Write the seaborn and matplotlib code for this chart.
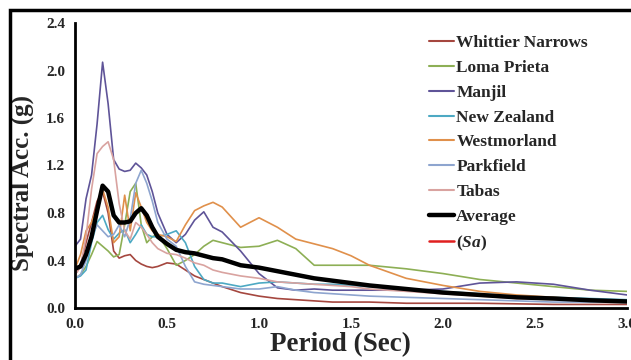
import matplotlib
matplotlib.use("Agg")
import matplotlib.pyplot as plt
from matplotlib.lines import Line2D
from matplotlib.patches import Rectangle
import pandas as pd
import seaborn as sns

# Response spectra of the selected ground motions (period in s, Sa in g)
periods = [0.0, 0.03, 0.06, 0.09, 0.12, 0.15, 0.18, 0.21, 0.24, 0.27, 0.30, 0.33, 0.36,
           0.39, 0.42, 0.45, 0.5, 0.55, 0.6, 0.65, 0.7, 0.75, 0.8, 0.9, 1.0, 1.1, 1.2,
           1.3, 1.4, 1.5, 1.6, 1.8, 2.0, 2.2, 2.4, 2.6, 2.8, 3.0]

whittier = [0.28, 0.35, 0.55, 0.72, 0.90, 0.98, 0.80, 0.48, 0.42, 0.44, 0.45, 0.40, 0.37,
            0.35, 0.34, 0.35, 0.38, 0.37, 0.32, 0.27, 0.24, 0.21, 0.18, 0.13, 0.10, 0.08, 0.07,
            0.06, 0.05, 0.05, 0.05, 0.04, 0.04, 0.04, 0.035, 0.03, 0.03, 0.03]
loma_prieta = [0.25, 0.28, 0.35, 0.45, 0.56, 0.52, 0.48, 0.43, 0.45, 0.70, 0.98, 1.05, 0.70,
               0.55, 0.60, 0.62, 0.50, 0.36, 0.40, 0.45, 0.52, 0.57, 0.55, 0.51, 0.52, 0.57, 0.50,
               0.36, 0.36, 0.36, 0.36, 0.33, 0.29, 0.24, 0.21, 0.18, 0.15, 0.14]
manjil = [0.52, 0.58, 0.92, 1.12, 1.55, 2.07, 1.72, 1.25, 1.17, 1.15, 1.16, 1.22, 1.18,
          1.12, 0.98, 0.80, 0.62, 0.55, 0.62, 0.74, 0.81, 0.68, 0.64, 0.48, 0.29, 0.17, 0.15,
          0.16, 0.15, 0.15, 0.15, 0.15, 0.16, 0.21, 0.22, 0.20, 0.15, 0.11]
new_zealand = [0.25, 0.27, 0.32, 0.55, 0.72, 0.78, 0.66, 0.58, 0.63, 0.66, 0.55, 0.62, 0.70,
               0.62, 0.60, 0.60, 0.62, 0.65, 0.55, 0.35, 0.24, 0.21, 0.21, 0.18, 0.21, 0.22, 0.21,
               0.20, 0.20, 0.19, 0.18, 0.16, 0.14, 0.12, 0.10, 0.09, 0.08, 0.07]
westmorland = [0.33, 0.45, 0.65, 0.72, 0.85, 1.00, 0.85, 0.55, 0.60, 0.95, 0.65, 0.97, 0.85,
               0.72, 0.65, 0.62, 0.60, 0.56, 0.70, 0.82, 0.86, 0.89, 0.85, 0.68, 0.76, 0.68, 0.58,
               0.54, 0.50, 0.44, 0.36, 0.25, 0.19, 0.14, 0.11, 0.09, 0.07, 0.06]
parkfield = [0.25, 0.28, 0.40, 0.60, 0.70, 0.65, 0.60, 0.62, 0.70, 0.60, 0.75, 1.05, 1.16,
             1.05, 0.90, 0.72, 0.58, 0.52, 0.35, 0.22, 0.20, 0.19, 0.18, 0.16, 0.16, 0.18, 0.15,
             0.13, 0.12, 0.11, 0.10, 0.09, 0.08, 0.07, 0.06, 0.05, 0.05, 0.05]
tabas = [0.28, 0.35, 0.60, 1.00, 1.30, 1.36, 1.40, 1.25, 0.88, 0.65, 0.58, 0.72, 0.68,
         0.62, 0.55, 0.50, 0.46, 0.45, 0.42, 0.38, 0.36, 0.32, 0.30, 0.27, 0.25, 0.22, 0.21,
         0.20, 0.19, 0.18, 0.16, 0.14, 0.12, 0.10, 0.08, 0.07, 0.06, 0.06]
average = [0.33, 0.35, 0.45, 0.60, 0.82, 1.03, 0.98, 0.78, 0.72, 0.72, 0.73, 0.80, 0.84,
           0.78, 0.68, 0.60, 0.54, 0.49, 0.47, 0.46, 0.44, 0.42, 0.41, 0.36, 0.34, 0.31, 0.28,
           0.25, 0.23, 0.21, 0.19, 0.16, 0.13, 0.11, 0.09, 0.08, 0.065, 0.055]
sa_design = average

series_names = ["Whittier Narrows", "Loma Prieta", "Manjil", "New Zealand",
                "Westmorland", "Parkfield", "Tabas"]
series_values = [whittier, loma_prieta, manjil, new_zealand, westmorland, parkfield, tabas]
series_colors = ["#A5473F", "#8DAF55", "#5F5498", "#4DA9C3", "#E0904B", "#8EA5CF", "#D9A3A0"]

x_ticks = [0.0, 0.5, 1.0, 1.5, 2.0, 2.5, 3.0]
y_ticks = [0.0, 0.4, 0.8, 1.2, 1.6, 2.0, 2.4]

sns.set_style("white")
plt.rcParams["font.family"] = ["Liberation Serif", "DejaVu Serif"]
plt.rcParams["font.weight"] = "bold"
plt.rcParams["mathtext.fontset"] = "custom"
plt.rcParams["mathtext.it"] = "Liberation Serif:italic:bold"
plt.rcParams["mathtext.rm"] = "Liberation Serif:bold"

fig = plt.figure(figsize=(6.31, 3.6), dpi=100)
ax = fig.add_axes([75 / 631, 1 - 308 / 360, (627 - 75) / 631, (308 - 23) / 360])

for name, vals, col in zip(series_names, series_values, series_colors):
    df = pd.DataFrame({"T": periods, "Sa": vals})
    sns.lineplot(data=df, x="T", y="Sa", ax=ax, color=col, lw=1.2, zorder=2)

sns.lineplot(data=pd.DataFrame({"T": periods, "Sa": sa_design}), x="T", y="Sa",
             ax=ax, color="#E02020", lw=1.5, zorder=3)
sns.lineplot(data=pd.DataFrame({"T": periods, "Sa": average}), x="T", y="Sa",
             ax=ax, color="black", lw=3.2, zorder=4)

ax.set_xlim(0, 3.0)
ax.set_ylim(0, 2.4)
ax.set_xticks(x_ticks)
ax.set_yticks(y_ticks)
ax.set_xticklabels([f"{v:.1f}" for v in x_ticks], fontsize=11, fontweight="bold")
ax.set_yticklabels([f"{v:.1f}" for v in y_ticks], fontsize=11, fontweight="bold")
ax.tick_params(direction="out", length=4, width=1.8, color="black", pad=3)
for side in ("top", "right"):
    ax.spines[side].set_visible(False)
for side in ("left", "bottom"):
    ax.spines[side].set_color("black")
    ax.spines[side].set_linewidth(2.0)

ax.set_xlabel("Period (Sec)", fontsize=19.5, fontweight="bold", va="center")
ax.set_ylabel("Spectral Acc. (g)", fontsize=18, fontweight="bold", va="center")
ax.xaxis.set_label_coords(0.48, -0.13)
ax.yaxis.set_label_coords(-0.096, 0.44)

handles = [Line2D([], [], color=c, lw=1.5) for c in series_colors]
handles += [Line2D([], [], color="black", lw=3.2), Line2D([], [], color="#E02020", lw=1.8)]
labels = series_names + ["Average", r"($\mathit{Sa}$)"]
leg = fig.legend(handles, labels, loc="upper left", bbox_to_anchor=(429 / 631, 1 - 35 / 360),
                 frameon=False, fontsize=12.5, handlelength=1.45, handletextpad=0.12,
                 labelspacing=0.5, borderpad=0, borderaxespad=0)
for t in leg.get_texts():
    t.set_fontweight("bold")

# outer frame around the figure panel
fig.patches.append(Rectangle((10 / 631, -0.2), 1.2, 1 - 10 / 360 + 0.2, fill=False,
                             lw=2.5, edgecolor="black", transform=fig.transFigure,
                             clip_on=False))

fig.savefig("out.png", dpi=100)
